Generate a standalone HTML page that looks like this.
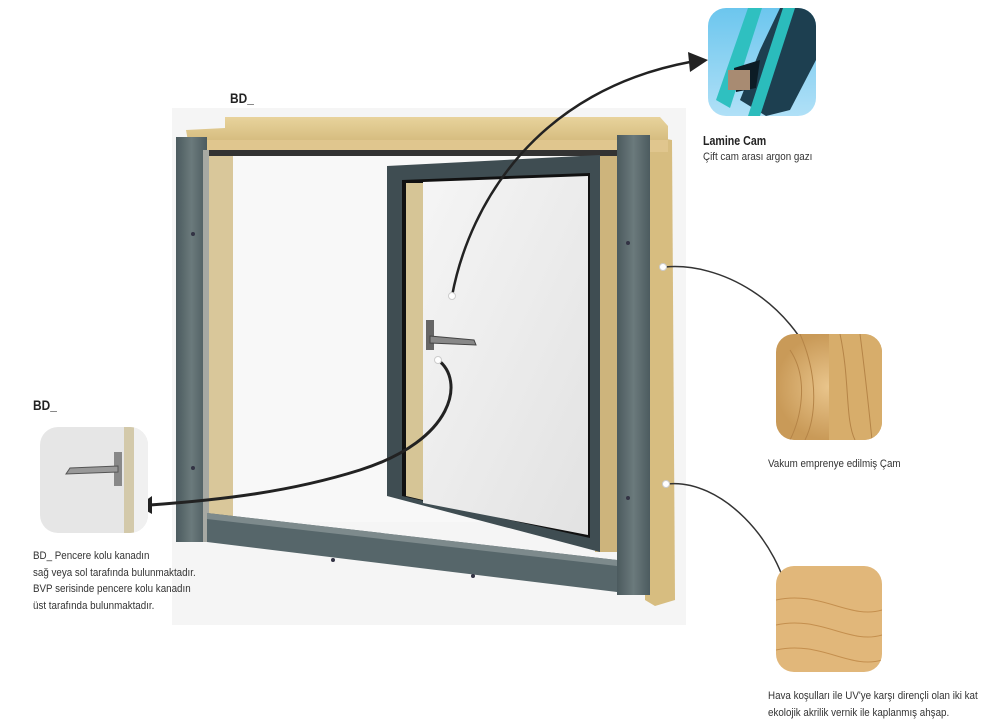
<!DOCTYPE html>
<html><head><meta charset="utf-8"><style>
body{margin:0;background:#fff;width:1000px;height:727px;overflow:hidden;font-family:"Liberation Sans",sans-serif}
svg{position:absolute;left:0;top:0}
.t{position:absolute;font-size:11px;color:#333;line-height:16.5px;white-space:nowrap;transform-origin:0 0;transform:scaleX(.89)}
.b{font-weight:bold;font-size:14px;color:#222;transform:scaleX(.85)}
</style></head><body>
<svg width="1000" height="727" viewBox="0 0 1000 727">
<defs>
<linearGradient id="wd" x1="0" y1="0" x2="0" y2="1"><stop offset="0" stop-color="#e8d39c"/><stop offset="1" stop-color="#cdb172"/></linearGradient>
<linearGradient id="gr" x1="0" y1="0" x2="1" y2="0"><stop offset="0" stop-color="#4b5a5e"/><stop offset=".5" stop-color="#6b7a7c"/><stop offset="1" stop-color="#4c5b5f"/></linearGradient>
<linearGradient id="gl" x1="0" y1="0" x2="1" y2="1"><stop offset="0" stop-color="#f5f5f5"/><stop offset="1" stop-color="#e2e2e2"/></linearGradient>
<linearGradient id="sky" x1="0" y1="0" x2="0" y2="1"><stop offset="0" stop-color="#6cc6ee"/><stop offset="1" stop-color="#b0e0f7"/></linearGradient>
<radialGradient id="w1"><stop offset="0" stop-color="#e9c58c"/><stop offset="1" stop-color="#c99a58"/></radialGradient>
<clipPath id="c1"><rect x="708" y="8" width="108" height="108" rx="18"/></clipPath>
<clipPath id="c2"><rect x="776" y="334" width="106" height="106" rx="18"/></clipPath>
<clipPath id="c3"><rect x="776" y="566" width="106" height="106" rx="18"/></clipPath>
<clipPath id="c4"><rect x="40" y="427" width="108" height="106" rx="18"/></clipPath>
</defs>
<rect x="172" y="108" width="514" height="517" fill="#f5f5f5"/>
<polygon points="645,135 672,140 675,600 655,606 645,600" fill="#d7bd80"/>
<polygon points="225,117 660,117 668,126 668,150 190,152 186,130 225,128" fill="url(#wd)"/>
<rect x="190" y="140" width="478" height="12" fill="#e0c68e"/>
<rect x="207" y="152" width="410" height="370" fill="#f8f8f8"/>
<rect x="207" y="152" width="26" height="370" fill="#d9c79a"/>
<rect x="595" y="152" width="22" height="400" fill="#cdb47c"/>
<rect x="205" y="150" width="412" height="6" fill="#333"/>
<rect x="176" y="137" width="31" height="405" fill="url(#gr)"/>
<rect x="203" y="150" width="6" height="392" fill="#a7a9a3"/>
<rect x="617" y="135" width="33" height="460" fill="url(#gr)"/>
<polygon points="207,513 617,560 617,592 207,542" fill="#56666a"/>
<polygon points="207,513 617,560 617,566 207,519" fill="#7d8a8c"/>
<polygon points="387,166 600,155 600,552 387,496" fill="#3f4d52"/>
<polygon points="402,180 590,173 590,538 402,496" fill="#111"/>
<polygon points="406,183 423,183 423,500 406,496" fill="#d6c596"/>
<polygon points="423,182 588,176 588,535 423,503" fill="url(#gl)"/>
<rect x="426" y="320" width="8" height="30" fill="#666"/>
<path d="M430 336 L474 340 L476 345 L430 343Z" fill="#888" stroke="#444" stroke-width="1"/>
<g fill="#334"><circle cx="193" cy="234" r="2"/><circle cx="193" cy="468" r="2"/><circle cx="628" cy="243" r="2"/><circle cx="628" cy="498" r="2"/><circle cx="333" cy="560" r="2"/><circle cx="473" cy="576" r="2"/></g>
<path d="M452 296 C470 200 540 90 690 62" fill="none" stroke="#222" stroke-width="2.5"/>
<polygon points="688,52 708,60 690,72" fill="#222"/>
<path d="M438 360 C465 380 455 440 360 470 C290 492 220 500 150 505" fill="none" stroke="#222" stroke-width="3"/>
<polygon points="152,496 138,506 152,514" fill="#222"/>
<path d="M665 267 C720 262 790 300 818 372" fill="none" stroke="#333" stroke-width="1.5"/>
<polygon points="812,372 822,386 824,370" fill="#222"/>
<path d="M667 484 C720 478 780 540 790 605" fill="none" stroke="#333" stroke-width="1.5"/>
<polygon points="785,603 791,618 796,603" fill="#222"/>
<g fill="#fff" stroke="#ccc"><circle cx="452" cy="296" r="3.5"/><circle cx="438" cy="360" r="3.5"/><circle cx="663" cy="267" r="3.5"/><circle cx="666" cy="484" r="3.5"/></g>
<g clip-path="url(#c1)"><rect x="708" y="8" width="108" height="108" fill="url(#sky)"/>
<polygon points="748,8 762,8 730,108 716,100" fill="#2fc0c0"/>
<polygon points="780,8 816,8 816,60 790,110 766,116 740,100 760,50" fill="#1d3f50"/>
<polygon points="783,8 795,8 760,116 748,116" fill="#2bbcbc"/>
<polygon points="734,68 760,60 756,88 736,92" fill="#0c1c25"/>
<rect x="728" y="70" width="22" height="20" fill="#a88b72"/>
</g>
<g clip-path="url(#c2)"><rect x="776" y="334" width="106" height="106" fill="url(#w1)"/>
<rect x="829" y="334" width="53" height="106" fill="#d7ad6b"/>
<g stroke="#b58447" fill="none" stroke-width="1"><path d="M790 350 C810 380 800 420 790 440"/><path d="M800 334 C820 380 815 420 805 440"/><path d="M840 334 C850 380 845 420 855 440"/><path d="M860 334 C866 380 870 420 872 440"/></g></g>
<g clip-path="url(#c3)"><rect x="776" y="566" width="106" height="106" fill="#e1b77a"/>
<g stroke="#c48f4e" fill="none"><path d="M776 600 C820 590 850 620 882 610"/><path d="M776 625 C820 615 850 645 882 635"/><path d="M776 650 C820 640 850 670 882 660"/></g></g>
<g clip-path="url(#c4)"><rect x="40" y="427" width="108" height="106" fill="#e6e6e6"/>
<rect x="124" y="427" width="10" height="106" fill="#d3c9aa"/><rect x="134" y="427" width="14" height="106" fill="#f0f0f0"/>
<rect x="114" y="452" width="8" height="34" fill="#888"/>
<path d="M118 466 L70 468 L66 474 L118 472Z" fill="#999" stroke="#555"/></g>
</svg>
<div class="t b" style="left:230px;top:90px">BD_</div>
<div class="t b" style="left:33px;top:397px">BD_</div>
<div class="t b" style="left:703px;top:133px;font-size:12.5px">Lamine Cam</div>
<div class="t" style="left:703px;top:149px">Çift cam arası argon gazı</div>
<div class="t" style="left:768px;top:456px">Vakum emprenye edilmiş Çam</div>
<div class="t" style="left:33px;top:548px">BD_ Pencere kolu kanadın<br>sağ veya sol tarafında bulunmaktadır.<br>BVP serisinde pencere kolu kanadın<br>üst tarafında bulunmaktadır.</div>
<div class="t" style="left:768px;top:688px">Hava koşulları ile UV'ye karşı dirençli olan iki kat<br>ekolojik akrilik vernik ile kaplanmış ahşap.</div>
</body></html>
